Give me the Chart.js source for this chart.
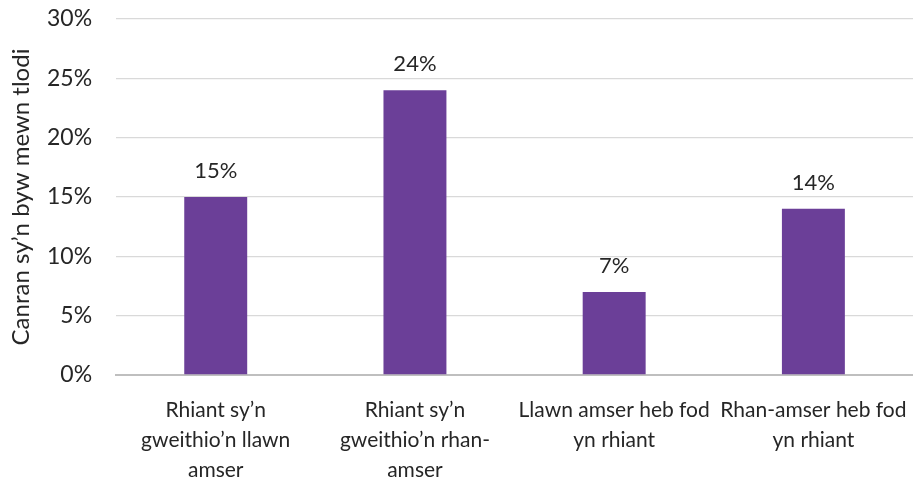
<!DOCTYPE html>
<html>
<head>
<meta charset="utf-8">
<script src="https://cdn.jsdelivr.net/npm/chart.js@4/dist/chart.umd.min.js"></script>
<style>
    html, body { margin: 0; padding: 0; background: #ffffff; }
    #wrap { width: 913px; height: 479px; position: relative; }
</style>
</head>
<body>
<div id="wrap"><canvas id="povertyChart"></canvas></div>
<script>
// Chart data
const categories = [
    ['Rhiant sy\u2019n', 'gweithio\u2019n llawn', 'amser'],
    ['Rhiant sy\u2019n', 'gweithio\u2019n rhan-', 'amser'],
    ['Llawn amser heb fod', 'yn rhiant'],
    ['Rhan-amser heb fod', 'yn rhiant']
];
const povertyRates = [15, 24, 7, 14];
const yAxisTitle = 'Canran sy\u2019n byw mewn tlodi';

const fontFamily = "'Lato', 'DejaVu Sans', sans-serif";
const textColour = '#262626';

// Simple plugin to print the value above each bar
const valueLabels = {
    id: 'valueLabels',
    afterDatasetsDraw(chart) {
        const ctx = chart.ctx;
        const meta = chart.getDatasetMeta(0);
        ctx.save();
        ctx.font = '22px ' + fontFamily;
        ctx.fillStyle = textColour;
        ctx.textAlign = 'center';
        ctx.textBaseline = 'middle';
        meta.data.forEach((bar, i) => {
            ctx.fillText(povertyRates[i] + '%', bar.x, bar.y - 26);
        });
        ctx.restore();
    }
};

const ctx = document.getElementById('povertyChart').getContext('2d');
new Chart(ctx, {
    type: 'bar',
    data: {
        labels: categories,
        datasets: [{
            data: povertyRates,
            backgroundColor: '#6b3f98',
            borderWidth: 0,
            categoryPercentage: 1.0,
            barPercentage: 0.316
        }]
    },
    options: {
        responsive: true,
        maintainAspectRatio: false,
        animation: false,
        layout: {
            // tick marks are invisible, they only hold the label gaps
            padding: { top: 19, right: 0, bottom: -6, left: 0 }
        },
        plugins: {
            legend: { display: false },
            tooltip: { enabled: false }
        },
        scales: {
            x: {
                grid: { display: false, drawTicks: true, tickLength: 20, tickColor: 'rgba(0,0,0,0)' },
                border: { color: '#bfbfbf', width: 2 },
                ticks: {
                    color: textColour,
                    font: { family: fontFamily, size: 21, lineHeight: 30 / 21 },
                    maxRotation: 0,
                    autoSkip: false,
                    padding: 0
                }
            },
            y: {
                min: 0,
                max: 30,
                grid: { color: '#d9d9d9', lineWidth: 1.3, drawTicks: true, tickLength: 24, tickColor: 'rgba(0,0,0,0)' },
                border: { display: false },
                ticks: {
                    stepSize: 5,
                    color: textColour,
                    font: { family: fontFamily, size: 23 },
                    padding: 0,
                    callback: v => v + '%'
                },
                title: {
                    display: true,
                    text: yAxisTitle,
                    color: textColour,
                    font: { family: fontFamily, size: 24 },
                    padding: { top: 6.6, bottom: 11.6 }
                }
            }
        }
    },
    plugins: [valueLabels]
});
</script>
</body>
</html>
